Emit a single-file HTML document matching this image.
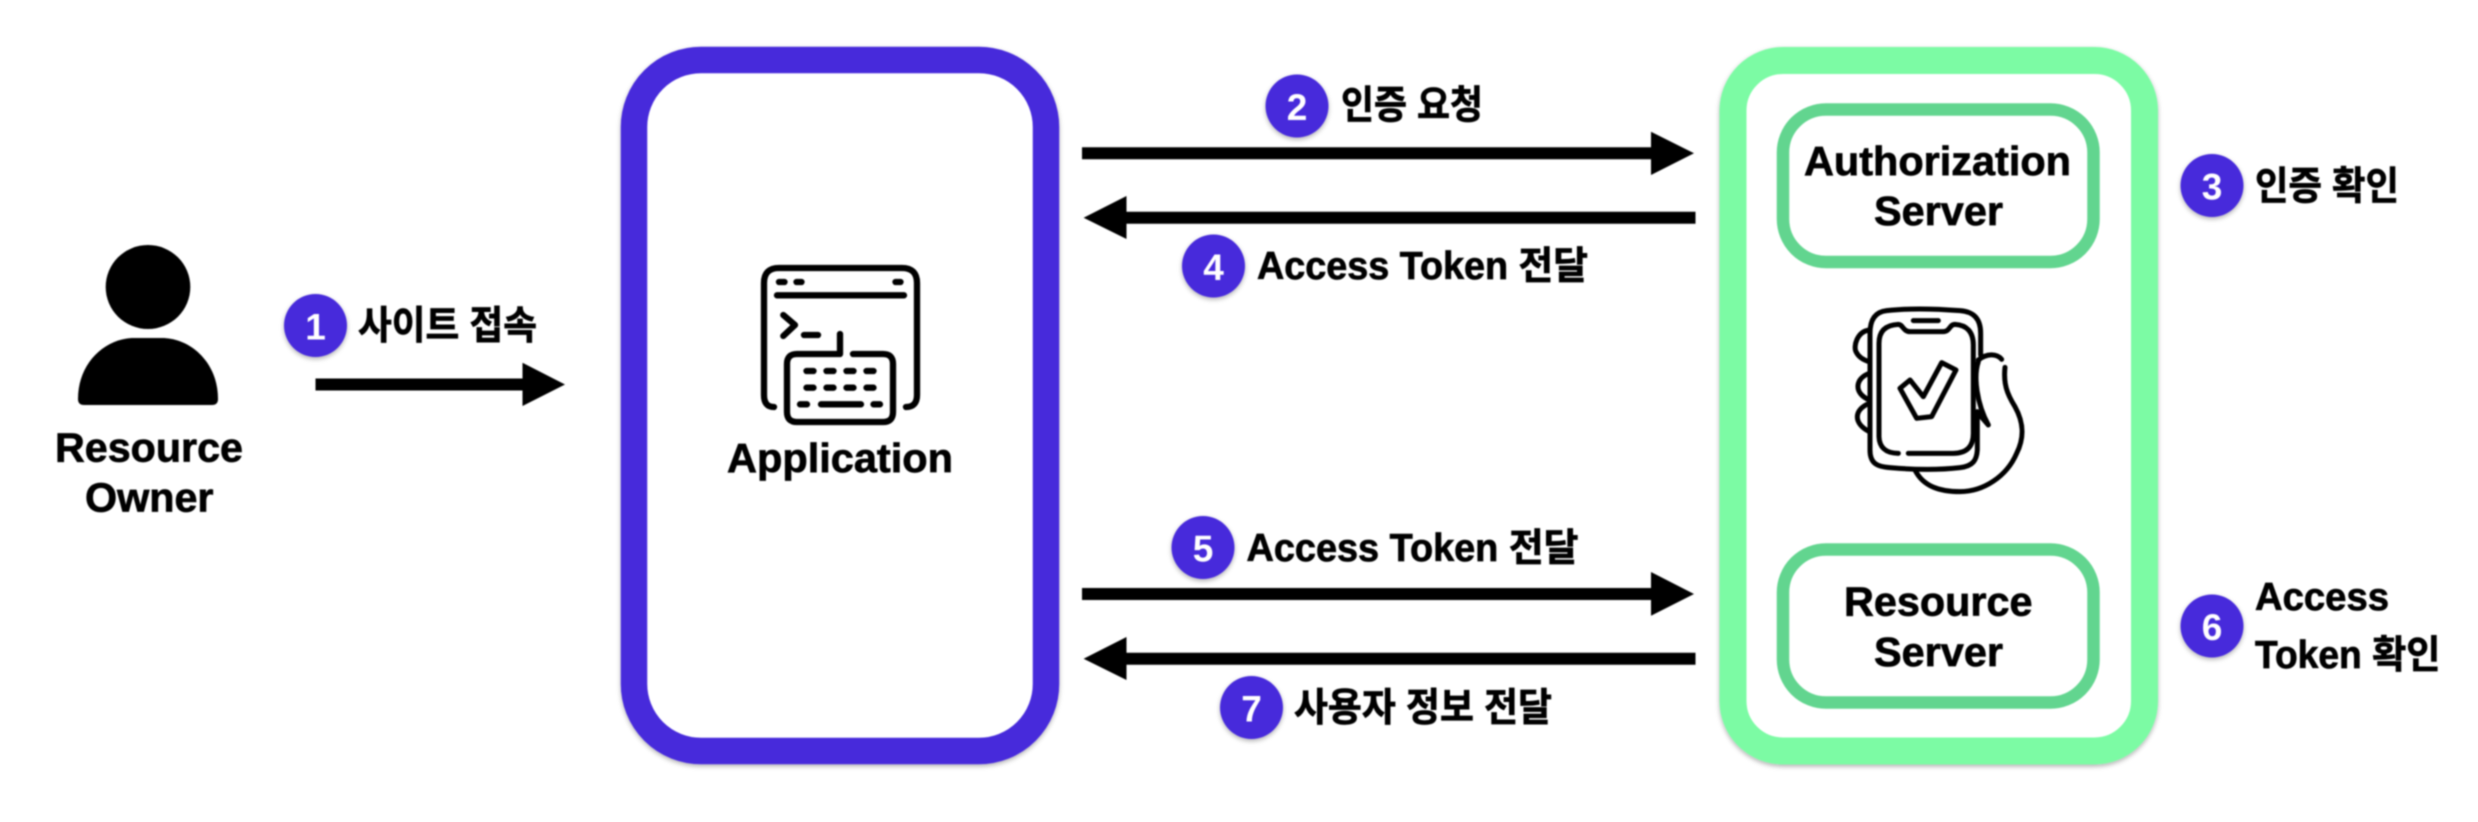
<!DOCTYPE html>
<html lang="ko">
<head>
<meta charset="utf-8">
<title>OAuth Flow</title>
<style>
html,body{margin:0;padding:0;background:#fff;width:2478px;height:822px;overflow:hidden}
svg{display:block;filter:blur(.7px)}
text{font-family:"Liberation Sans","Noto Sans CJK KR",sans-serif;font-weight:700;fill:#000;stroke:#000;stroke-width:.7px}
.n{fill:#fff;stroke:none;text-anchor:middle;font-size:37px}
.t{font-size:41px}
.k{font-size:39px}
.ic{fill:none;stroke:#000;stroke-linecap:round;stroke-linejoin:round}
</style>
</head>
<body>
<svg width="2478" height="822" viewBox="0 0 2478 822" xmlns="http://www.w3.org/2000/svg">
<defs>
<filter id="s" x="-20%" y="-20%" width="140%" height="140%"><feDropShadow dx="0" dy="2" stdDeviation="2.5" flood-color="#000" flood-opacity=".3"/></filter>
</defs>
<rect width="2478" height="822" fill="#fff"/>

<!-- Containers -->
<rect x="634" y="60" width="412" height="691" rx="67" fill="#fff" stroke="#462bdb" stroke-width="26.5" filter="url(#s)"/>
<rect x="1733" y="60.5" width="411.5" height="690.5" rx="50" fill="#fff" stroke="#7bfba4" stroke-width="27" filter="url(#s)"/>
<rect x="1783" y="109.5" width="310.5" height="152.5" rx="43" fill="#fff" stroke="#62d58f" stroke-width="12.5"/>
<rect x="1783" y="549.5" width="310.5" height="153" rx="43" fill="#fff" stroke="#62d58f" stroke-width="12.5"/>

<!-- Person -->
<ellipse cx="148" cy="287" rx="42.3" ry="42"/>
<path d="M84 405H212Q218 405 218 399C218 362 190 338 162 338H134C106 338 78 362 78 399Q78 405 84 405Z"/>

<!-- Arrows -->
<path d="M315.5 378.5H522.5V362.7L565 384.5 522.5 406V390.5H315.5Z"/>
<path d="M1082 147.3H1651V131.7L1694 153.3 1651 175V159.3H1082Z"/>
<path d="M1695.5 211.7H1126.5V196L1083.6 217.7 1126.5 239V223.7H1695.5Z"/>
<path d="M1082 588H1651V572L1694 594 1651 615.7V600H1082Z"/>
<path d="M1695.5 652.7H1126.5V637L1083.6 658.7 1126.5 680V664.7H1695.5Z"/>

<!-- Badges -->
<g fill="#462bdb" filter="url(#s)">
<circle cx="315.5" cy="325.5" r="31.5"/>
<circle cx="1297" cy="106" r="31.5"/>
<circle cx="2212" cy="185.5" r="31.5"/>
<circle cx="1213.5" cy="266" r="31.5"/>
<circle cx="1203" cy="547.5" r="31.5"/>
<circle cx="2212" cy="626" r="31.5"/>
<circle cx="1251.5" cy="707.5" r="31.5"/>
</g>
<text class="n" x="315.5" y="339.5">1</text>
<text class="n" x="1297" y="120">2</text>
<text class="n" x="2212" y="199.5">3</text>
<text class="n" x="1213.5" y="280">4</text>
<text class="n" x="1203" y="561.5">5</text>
<text class="n" x="2212" y="640">6</text>
<text class="n" x="1251.5" y="721.5">7</text>

<!-- Labels -->
<text class="t" x="55" y="461.7" textLength="188" lengthAdjust="spacingAndGlyphs">Resource</text>
<text class="t" x="85" y="511.7" textLength="128.5" lengthAdjust="spacingAndGlyphs">Owner</text>
<text class="t" x="727" y="472" textLength="226" lengthAdjust="spacingAndGlyphs">Application</text>
<text class="t" x="1804" y="175" textLength="267" lengthAdjust="spacingAndGlyphs">Authorization</text>
<text class="t" x="1874" y="225" textLength="129" lengthAdjust="spacingAndGlyphs">Server</text>
<text class="t" x="1844" y="615.7" textLength="188.5" lengthAdjust="spacingAndGlyphs">Resource</text>
<text class="t" x="1874" y="666" textLength="129" lengthAdjust="spacingAndGlyphs">Server</text>

<text class="k" x="358" y="339" textLength="179" lengthAdjust="spacingAndGlyphs">사이트 접속</text>
<text class="k" x="1341" y="118.5" textLength="142" lengthAdjust="spacingAndGlyphs">인증 요청</text>
<text style="font-size:38.5px" x="1257" y="279" textLength="331" lengthAdjust="spacingAndGlyphs">Access Token 전달</text>
<text class="k" x="2255" y="199.5" textLength="144" lengthAdjust="spacingAndGlyphs">인증 확인</text>
<text style="font-size:38.5px" x="1246.5" y="561" textLength="332" lengthAdjust="spacingAndGlyphs">Access Token 전달</text>
<text style="font-size:38.5px" x="2255" y="610" textLength="134" lengthAdjust="spacingAndGlyphs">Access</text>
<text style="font-size:38.5px" x="2255" y="668" textLength="185.5" lengthAdjust="spacingAndGlyphs">Token 확인</text>
<text class="k" x="1294" y="721" textLength="258" lengthAdjust="spacingAndGlyphs">사용자 정보 전달</text>

<!-- Application icon -->
<g class="ic" stroke-width="6.3">
<path d="M774 407Q764 407 764 395V283Q764 268 779 268H902Q917 268 917 283V395Q917 407 906 407"/>
<path d="M779 282H784.5M796.5 282H801.5M895.5 282H900.5"/>
<path d="M777 295.3H904"/>
<path d="M783.3 315L795 325 783.3 336M804 335H818"/>
<path d="M840 334V354H797Q787 354 787 364V412Q787 422 797 422H883Q893 422 893 412V364Q893 354 883 354H853"/>
<path d="M806.5 371H813.5M826.5 371H833.5M846.5 371H853.5M866.5 371H873.5"/>
<path d="M806.5 387.7H813.5M826.5 387.7H833.5M846.5 387.7H853.5M866.5 387.7H873.5"/>
<path d="M800 404.3H807M821 404.3H861M873.5 404.3H880"/>
</g>

<!-- Phone icon -->
<g class="ic" stroke-width="15" transform="translate(1830,290) scale(.3333)">
<path d="M452 195V130C452 85 430 65 390 62C300 55 230 55 170 62C135 66 120 90 120 130V480C120 520 140 530 180 533C260 540 330 540 390 533C430 528 440 510 442 480V365"/>
<path d="M205 490C165 490 148 470 147 440V160C147 125 165 105 205 103C218 103 220 125 240 125H340C360 125 358 103 375 103C410 105 430 125 430 165V430C430 470 410 490 370 490H235"/>
<path d="M250 92H325"/>
<path d="M210 295L240 270 280 320 335 218 378 240 305 380 260 385Z"/>
<path d="M118 120C80 125 70 170 78 185C85 200 100 210 118 215"/>
<path d="M118 250C75 265 70 310 118 330"/>
<path d="M118 340C70 360 70 400 118 425"/>
<path d="M445 210C470 190 500 190 515 208"/>
<path d="M525 232C520 280 530 310 555 350C580 395 585 440 560 490C530 560 460 605 390 605C330 605 280 590 255 540"/>
<path d="M445 215C430 260 440 340 475 405L445 370"/>
</g>
</svg>
</body>
</html>
